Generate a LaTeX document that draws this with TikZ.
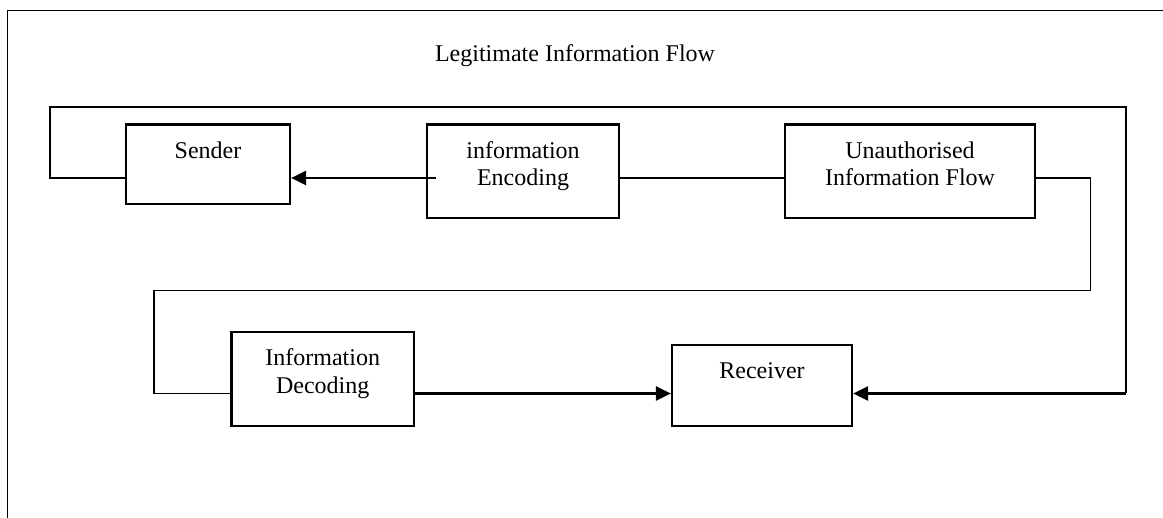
\documentclass[tikz,border=0pt]{standalone}
\usepackage{fontspec}
\setmainfont{Liberation Serif}
\usepackage{xcolor}
\usepackage{tikz}
\usetikzlibrary{arrows.meta}

\begin{document}
\begin{tikzpicture}[x=0.5pt, y=-0.5pt,
  flowbox/.style={draw, line width=1.1pt, inner sep=0pt, font=\fontsize{12}{13.8}\selectfont},
  flowline/.style={line width=0.9pt},
  flowarrow/.style={line width=1.25pt, -{Triangle[length=7.5pt,width=7pt]}}]
\useasboundingbox (0,0) rectangle (1163,518);
\draw[line width=0.9pt] (1163,10.5) -- (7.5,10.5) -- (7.5,518);
\node[font=\fontsize{12}{13.8}\selectfont] (title) at (575,56) {Legitimate Information Flow};

\node[flowbox] (snd) at (208,164.25) {
\begin{minipage}[c][39.75pt][t]{82pt}
\centering\rule{0pt}{16.8pt}Sender
\end{minipage}
};
\node[flowbox] (enc) at (523,171.25) {
\begin{minipage}[c][46.75pt][t]{96pt}
\centering\rule{0pt}{16.8pt}information\\ Encoding
\end{minipage}
};
\node[flowbox] (una) at (910,171.25) {
\begin{minipage}[c][46.75pt][t]{125pt}
\centering\rule{0pt}{16.8pt}Unauthorised\\ Information Flow
\end{minipage}
};
\node[flowbox] (dec) at (322.75,379) {
\begin{minipage}[c][47pt][t]{91.25pt}
\centering\rule{0pt}{16.8pt}Information\\ Decoding
\end{minipage}
};
\node[flowbox] (rcv) at (762,385.5) {
\begin{minipage}[c][40.5pt][t]{90pt}
\centering\rule{0pt}{16.8pt}Receiver
\end{minipage}
};

\coordinate (rowA) at (0,178);
\coordinate (rowB) at (0,393.5);
\coordinate (legit) at (50,107);
\coordinate (legitR) at (1126,107);
\coordinate (legitB) at (1126,393.5);
\coordinate (leak) at (1090.5,290.5);
\coordinate (leakL) at (153.6,290.5);

% legitimate loop
\draw[flowline] (snd.west |- rowA) -| (legit) -- (legitR) -- (legitB);
\draw[flowarrow] (legitB) -- (rcv.east |- rowB);
% top row
\draw[flowarrow] ([xshift=5pt]enc.west |- rowA) -- (snd.east |- rowA);
\draw[flowline] (enc.east |- rowA) -- (una.west |- rowA);
% unauthorised loop
\draw[flowline] (una.east |- rowA) -| (leak) -- (leakL) |- (dec.west |- rowB);
\draw[flowarrow] (dec.east |- rowB) -- (rcv.west |- rowB);
\end{tikzpicture}
\end{document}
